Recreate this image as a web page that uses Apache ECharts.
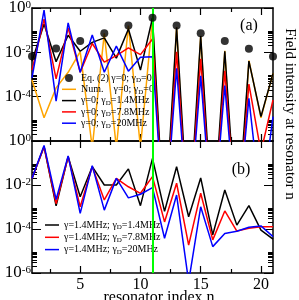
<!DOCTYPE html>
<html><head><meta charset="utf-8">
<script src="https://cdn.jsdelivr.net/npm/echarts@6/dist/echarts.min.js"></script>
<style>html,body{margin:0;padding:0;background:#fff}#c{width:299px;height:300px}</style>
</head><body><div id="c"></div>
<script>
// ---- data ----
const resonatorIndex = [1,2,3,4,5,6,7,8,9,10,11,12,13,14,15,16,17,18,19,20,21];
const eqIndex = [1,3,5,7,9,11,13,15,17,19,21];
const eqValues = [6.6e-3,1.48e-2,3.24e-2,7.24e-2,0.162,0.363,0.162,7.24e-2,3.24e-2,1.45e-2,6.5e-3];
const topNum = [5.6e-4,1.12e-5,2.5e-4,1.26e-3,1.07e-2,5e-7,7.2e-2,5e-7,0.162,5e-7,0.363,1e-11,0.138,1e-11,5.6e-2,1e-11,1.17e-2,1e-11,4.27e-3,1.12e-5,1.12e-3];
const topBlack = [4.0e-3,0.19,3.8e-3,5.9e-2,1.12e-2,2.8e-2,4.5e-2,5.5e-3,0.112,1.58e-3,0.355,1e-10,0.132,1e-10,5.4e-2,1e-10,1.12e-2,1e-10,4.0e-3,1.26e-5,1.12e-3];
const topRed = [1.58e-3,0.316,6.3e-4,0.126,1.26e-3,2.5e-2,3.6e-3,7.1e-3,1.58e-2,7.9e-3,4.0e-2,1e-10,1.07e-2,1e-10,5.1e-3,1e-10,1.48e-3,1e-10,3.7e-4,3.2e-7,7.1e-5];
const topBlue = [7.1e-4,0.81,6.3e-5,0.214,1.26e-3,6.0e-2,1.26e-3,1.9e-2,1.41e-3,6.0e-3,6.3e-3,1e-10,1.9e-3,1e-10,8.7e-4,1e-10,3.2e-4,1e-10,8.5e-5,1e-9,1.26e-5];
const botBlack = [2.0e-2,0.55,1.12e-3,0.195,2.95e-3,6.8e-2,1.0e-2,1.0e-2,5.4e-2,1.15e-3,0.162,6.3e-4,6.8e-2,3.6e-4,2.1e-2,5.4e-5,5.9e-3,1.5e-4,1.15e-3,8.9e-5,3.5e-5];
const botRed = [2.0e-2,0.55,1.41e-3,0.195,1.02e-3,6.8e-2,2.1e-3,2.0e-2,8.3e-3,4.2e-3,2.4e-2,2.1e-4,1.2e-2,1.86e-5,4.2e-3,3.2e-5,6.6e-4,8.1e-5,1.07e-4,1.26e-4,1.26e-4];
const botBlue = [2.0e-2,0.63,2.2e-3,0.21,5.1e-4,7.6e-2,7.2e-4,2.0e-2,2.6e-3,3.8e-3,7.6e-3,3.8e-5,3.5e-3,4.0e-7,1.02e-3,1.58e-5,6.3e-5,7.9e-5,1.2e-4,1.38e-4,4.5e-5];
const resonantIndex = 11;
const topNames = ['Eq. (2) γ=0; γD=0','Num.    γ=0; γD=0','γ=0; γD=1.4MHz','γ=0; γD=7.8MHz','γ=0; γD=20MHz'];
const botNames = ['γ=1.4MHz; γD=1.4MHz','γ=1.4MHz; γD=7.8MHz','γ=1.4MHz; γD=20MHz'];
const xMajorTicks = [5,10,15,20];
const xMinorTicks = [2.5,7.5,12.5,17.5];
const yMajorTicks = [1,1e-2,1e-4,1e-6];
const yMinorTicks = [2e-2,3e-2,4e-2,5e-2,6e-2,7e-2,8e-2,9e-2,2e-4,3e-4,4e-4,5e-4,6e-4,7e-4,8e-4,9e-4,2e-6,3e-6,4e-6,5e-6,6e-6,7e-6,8e-6,9e-6];
const yTopLabel = 'Field intensity at resonator n';
const xLabel = 'resonator index n';

// ---- chart ----
const FONT = 'Liberation Serif';
const pairs = (xs, ys) => xs.map((x, i) => [x, ys[i]]);
const grids = [
  {left: 32, top: 8, width: 241, height: 133, outerBoundsMode: 'none', containLabel: false},
  {left: 32, top: 141, width: 241, height: 132, outerBoundsMode: 'none', containLabel: false}
];
const LW = 1.5;
const xAxes = [], yAxes = [];
for (let g = 0; g < 2; g++) {
  xAxes.push({
    type: 'value', gridIndex: g, min: 1, max: 21, position: 'bottom',
    splitLine: {show: false},
    axisLine: {show: true, onZero: false, lineStyle: {color: '#000', width: LW}},
    axisTick: {show: true, inside: true, length: 7, customValues: xMajorTicks, lineStyle: {color: '#000', width: 1.2}},
    axisLabel: g === 1 ? {show: true, customValues: xMajorTicks, margin: 4, fontSize: 16, fontFamily: FONT, color: '#000'} : {show: false},
    name: g === 1 ? xLabel : '', nameLocation: 'middle', nameGap: 17, nameMoveOverlap: false,
    nameTextStyle: {fontSize: 16, fontFamily: FONT, color: '#000', padding: [0, 0, 0, 13]}
  });
}
for (let g = 0; g < 2; g++) {
  yAxes.push({
    type: 'log', logBase: 10, gridIndex: g, min: 1e-6, max: 1, position: 'left',
    splitLine: {show: false}, minorSplitLine: {show: false},
    axisLine: {show: true, onZero: false, lineStyle: {color: '#000', width: LW}},
    axisTick: {show: false},
    axisLabel: {
      show: true, margin: 1, showMinLabel: g === 1, color: '#000',
      formatter: v => {
        const e = Math.round(Math.log10(v));
        if (e % 2 !== 0) return '';
        return '{b|10}{s|' + e + '}';
      },
      rich: {
        b: {fontSize: 17, fontFamily: FONT, color: '#000', lineHeight: 17, padding: [9, 0, 0, 0], verticalAlign: 'bottom'},
        s: {fontSize: 11, fontFamily: FONT, color: '#000', lineHeight: 15, verticalAlign: 'top'}
      }
    }
  });
}
for (let g = 0; g < 2; g++) {
  const xbase = (pos, ticks, len, line) => ({
    type: 'value', gridIndex: g, min: 1, max: 21, position: pos,
    splitLine: {show: false}, axisLabel: {show: false},
    axisLine: {show: line, onZero: false, lineStyle: {color: '#000', width: LW}},
    axisTick: {show: true, inside: true, length: len, customValues: ticks, lineStyle: {color: '#000', width: 1.2}}
  });
  xAxes.push(xbase('top', xMajorTicks, 7, true));
  xAxes.push(xbase('bottom', xMinorTicks, 4, false));
  xAxes.push(xbase('top', xMinorTicks, 4, false));
  const ybase = (pos, ticks, len, line) => ({
    type: 'value', gridIndex: g, min: -6, max: 0, position: pos,
    splitLine: {show: false}, axisLabel: {show: false},
    axisLine: {show: line, onZero: false, lineStyle: {color: '#000', width: LW}},
    axisTick: {show: true, inside: true, length: len, customValues: ticks.map(v => Math.log10(v)), lineStyle: {color: '#000', width: 1}}
  });
  yAxes.push(ybase('left', yMajorTicks, 9, false));
  yAxes.push(ybase('left', yMinorTicks, 5, false));
  yAxes.push(ybase('right', yMajorTicks, 9, true));
  yAxes.push(ybase('right', yMinorTicks, 5, false));
}

const greenLine = {
  silent: true, symbol: 'none', label: {show: false},
  lineStyle: {color: '#00ff00', width: 2, type: 'solid'},
  data: [{xAxis: resonantIndex}]
};
const line = (name, g, ys, color, extra) => Object.assign({
  name, type: 'line', xAxisIndex: g, yAxisIndex: g, data: pairs(resonatorIndex, ys),
  symbol: 'none', showSymbol: false, clip: true,
  lineStyle: {color, width: 1.5}, itemStyle: {color}
}, extra || {});

const series = [
  line(topNames[1], 0, topNum, '#ffa500'),
  line(topNames[2], 0, topBlack, '#000000'),
  line(topNames[3], 0, topRed, '#ff0000'),
  line(topNames[4], 0, topBlue, '#0000ff', {markLine: greenLine}),
  {name: topNames[0], type: 'scatter', xAxisIndex: 0, yAxisIndex: 0, data: pairs(eqIndex, eqValues),
   symbol: 'circle', symbolSize: 8, itemStyle: {color: '#000'}, z: 5},
  line(botNames[0], 1, botBlack, '#000000'),
  line(botNames[1], 1, botRed, '#ff0000'),
  line(botNames[2], 1, botBlue, '#0000ff', {markLine: greenLine})
];

const LINE_ICON = 'path://M0,0L14,0L14,1.5L0,1.5Z';
const legendFmt = name => name.split('γD').map(p => p ? '{t|' + p + '}' : '').join('{t|γ}{d|D}');
const legendText = {
  fontFamily: FONT, fontSize: 10, color: '#000',
  rich: {
    t: {fontFamily: FONT, fontSize: 10, color: '#000', lineHeight: 12},
    d: {fontFamily: FONT, fontSize: 7, color: '#000', lineHeight: 7, verticalAlign: 'bottom'}
  }
};
const lineItem = n => ({name: n, icon: LINE_ICON});

const chart = echarts.init(document.getElementById('c'), null, {renderer: 'canvas'});
chart.setOption({
  animation: false,
  backgroundColor: '#fff',
  grid: grids,
  xAxis: xAxes,
  yAxis: yAxes,
  legend: [
    {data: [{name: topNames[0], icon: 'circle'}].concat(topNames.slice(1).map(lineItem)),
     orient: 'vertical', left: 62, top: 73, itemGap: 0.3, itemWidth: 14, itemHeight: 8, padding: 0,
     selectedMode: false, formatter: legendFmt, textStyle: legendText},
    {data: botNames.map(lineItem), orient: 'vertical', left: 45, top: 220, itemGap: 1.3, itemWidth: 14, itemHeight: 8, padding: 0,
     selectedMode: false, formatter: legendFmt, textStyle: legendText}
  ],
  graphic: [
    {type: 'text', x: 249, y: 26, style: {text: '(a)', font: '16px "Liberation Serif"', fill: '#000', align: 'center', verticalAlign: 'middle'}},
    {type: 'text', x: 241, y: 170, style: {text: '(b)', font: '16px "Liberation Serif"', fill: '#000', align: 'center', verticalAlign: 'middle'}},
    {type: 'text', x: 290, y: 114, rotation: -Math.PI / 2, style: {text: yTopLabel, font: '15px "Liberation Serif"', fill: '#000', align: 'center', verticalAlign: 'middle'}}
  ],
  series
});
</script></body></html>
